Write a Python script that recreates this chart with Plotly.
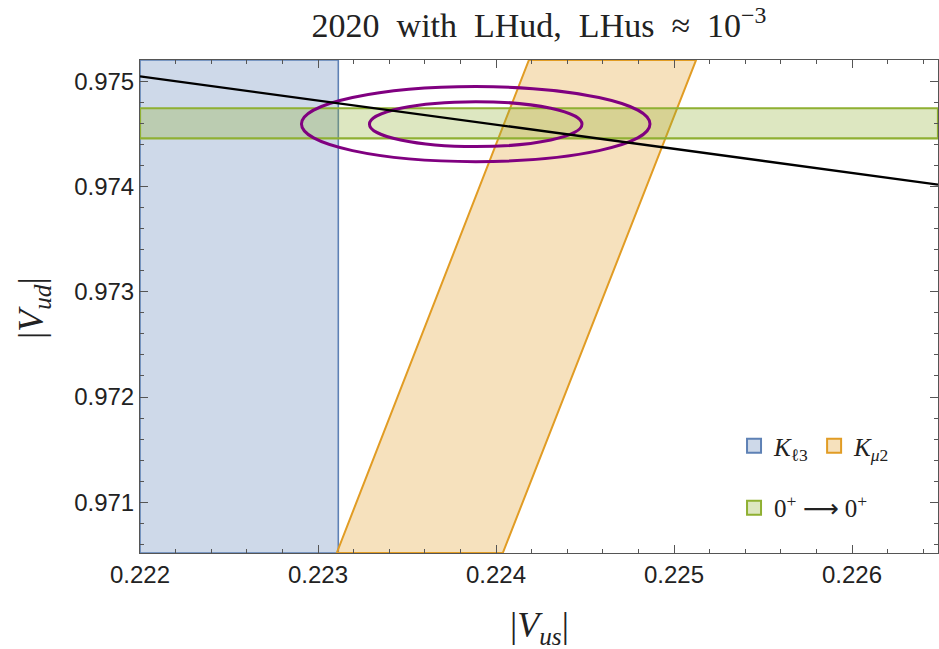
import plotly.graph_objects as go

# ---- data ----
x_range = [0.222, 0.226483]
y_range = [0.970516, 0.975206]

# K_l3 band (|Vus| upper edge; lower edge outside the view)
kl3_vus = [0.222, 0.223114]
# K_mu2 band corners (|Vus| at bottom / top of the view)
kmu2_vus = [0.223105, 0.224185, 0.225124, 0.224038]
kmu2_vud = [0.970516, 0.975206, 0.975206, 0.970516]
# 0+ -> 0+ band
sup_vud = [0.974461, 0.974747]
# unitarity line end points
unit_vus = [0.222, 0.226483]
unit_vud = [0.97505, 0.97402]
# fit ellipses: centre and semi-axes (inner = 68%, outer = 95%)
ell_center = [0.223886, 0.974596]
ell_semi_vus = [0.000597, 0.000979]
ell_semi_vud = [0.000214, 0.000357]

x_ticks = [0.222, 0.223, 0.224, 0.225, 0.226]
y_ticks = [0.971, 0.972, 0.973, 0.974, 0.975]

BLUE = "#5E81B5"
ORANGE = "#E19C24"
GREEN = "#8FB032"
PURPLE = "rgb(128,0,128)"

fig = go.Figure()

# blue K_l3 region
fig.add_trace(go.Scatter(
    x=[kl3_vus[0], kl3_vus[1], kl3_vus[1], kl3_vus[0], kl3_vus[0]],
    y=[y_range[0], y_range[0], y_range[1], y_range[1], y_range[0]],
    fill="toself", fillcolor="rgba(94,129,181,0.30)",
    line=dict(color=BLUE, width=1.6), mode="lines",
    showlegend=False, hoverinfo="skip"))
# orange K_mu2 region
fig.add_trace(go.Scatter(
    x=kmu2_vus + [kmu2_vus[0]], y=kmu2_vud + [kmu2_vud[0]],
    fill="toself", fillcolor="rgba(225,156,36,0.30)",
    line=dict(color=ORANGE, width=2), mode="lines",
    showlegend=False, hoverinfo="skip"))
# green 0+ -> 0+ band
fig.add_trace(go.Scatter(
    x=[x_range[0], x_range[1], x_range[1], x_range[0], x_range[0]],
    y=[sup_vud[0], sup_vud[0], sup_vud[1], sup_vud[1], sup_vud[0]],
    fill="toself", fillcolor="rgba(143,176,50,0.30)",
    line=dict(color=GREEN, width=2.2), mode="lines",
    showlegend=False, hoverinfo="skip"))

# legend entries
arrow = '<span style="font-family:DejaVu Sans">⟶</span>'
leg_items = [
    ("<i>K</i><sub>ℓ3</sub>", "rgba(94,129,181,0.30)", BLUE, "legend"),
    ("<i>K</i><sub><i>μ</i>2</sub>", "rgba(225,156,36,0.30)", ORANGE, "legend"),
    ("0<sup>+</sup> " + arrow + " 0<sup>+</sup>", "rgba(143,176,50,0.30)", GREEN, "legend2"),
]
for name, fc, lc, lg in leg_items:
    fig.add_trace(go.Scatter(
        x=[None], y=[None], mode="markers", name=name, legend=lg,
        marker=dict(symbol="square", size=14, color=fc,
                    line=dict(color=lc, width=2))))

# ellipses
for a, b in zip(ell_semi_vus, ell_semi_vud):
    fig.add_shape(type="circle", xref="x", yref="y",
                  x0=ell_center[0] - a, x1=ell_center[0] + a,
                  y0=ell_center[1] - b, y1=ell_center[1] + b,
                  line=dict(color=PURPLE, width=3), layer="above")
# unitarity line
fig.add_shape(type="line", xref="x", yref="y",
              x0=unit_vus[0], y0=unit_vud[0], x1=unit_vus[1], y1=unit_vud[1],
              line=dict(color="black", width=2.4), layer="above")

axis_common = dict(
    showgrid=False, zeroline=False, showline=True, linecolor="#555",
    linewidth=1, mirror="allticks", ticks="inside", ticklen=8, tickwidth=1,
    tickcolor="#555",
    tickfont=dict(family="Liberation Sans, Arial", size=24, color="#222"),
    minor=dict(ticks="inside", ticklen=4, tickwidth=1, tickcolor="#555",
               dtick=0.0002, showgrid=False),
)

fig.update_xaxes(range=x_range, tickvals=x_ticks,
                 ticktext=[f"{v:.3f}" for v in x_ticks], **axis_common)
fig.update_yaxes(range=y_range, tickvals=y_ticks,
                 ticktext=[f"{v:.3f}" for v in y_ticks], **axis_common)

serif = "Liberation Serif, Times New Roman, serif"
sp = "\u2002"
fig.update_layout(
    width=939, height=649,
    margin=dict(l=140, r=1, t=60, b=96),
    plot_bgcolor="white", paper_bgcolor="white",
    title=dict(text=f"2020{sp}with{sp}LHud,{sp}LHus{sp}≈{sp}10<sup>−3</sup>",
               x=0.5, xref="paper", xanchor="center",
               y=1 - 25 / 649, yref="container", yanchor="middle",
               font=dict(family=serif, size=34, color="#222")),
    legend=dict(orientation="h", x=0.7444, y=0.217, xanchor="left",
                yanchor="middle", bgcolor="rgba(0,0,0,0)",
                font=dict(family=serif, size=25, color="#222"),
                itemsizing="trace"),
    legend2=dict(orientation="h", x=0.7444, y=0.0913, xanchor="left",
                 yanchor="middle", bgcolor="rgba(0,0,0,0)",
                 font=dict(family=serif, size=25, color="#222"),
                 itemsizing="trace"),
    annotations=[
        dict(text="|<i>V</i><sub><i>us</i></sub>|", xref="paper", yref="paper",
             x=0.5, y=(553 - 627) / 493, xanchor="center", yanchor="middle",
             showarrow=False, font=dict(family=serif, size=36, color="#222")),
        dict(text="|<i>V</i><sub><i>ud</i></sub>|", xref="paper", yref="paper",
             x=(33 - 140) / 798, y=(553 - 308) / 493, xanchor="center",
             yanchor="middle", showarrow=False,
             textangle=-90, font=dict(family=serif, size=36, color="#222")),
    ],
)

fig.write_html("out.html")
